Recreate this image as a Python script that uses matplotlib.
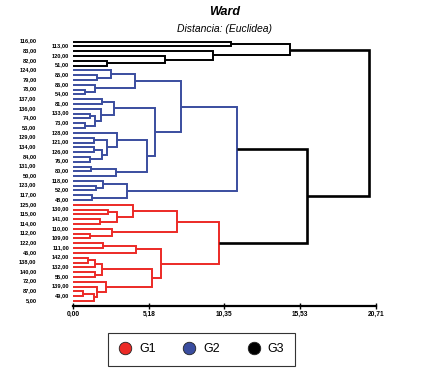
import matplotlib
matplotlib.use("Agg")
import matplotlib.pyplot as plt
from matplotlib.lines import Line2D

# leaf labels, top to bottom
leaves = ['116,00', '113,00', '83,00', '120,00', '82,00', '51,00',
          '124,00', '85,00', '79,00', '86,00', '78,00', '54,00',
          '137,00', '81,00', '136,00', '133,00', '74,00', '73,00', '53,00',
          '128,00', '129,00', '121,00', '134,00', '126,00', '84,00', '76,00',
          '131,00', '80,00', '50,00', '118,00', '123,00', '52,00', '117,00', '48,00',
          '125,00', '130,00', '115,00', '141,00', '114,00', '110,00', '112,00', '109,00',
          '122,00', '111,00', '46,00', '142,00', '138,00', '132,00', '140,00', '55,00',
          '72,00', '139,00', '87,00', '49,00', '5,00']

# group of each leaf (same order as leaves)
groups = ['G3'] * 6 + ['G2'] * 28 + ['G1'] * 21

# merges: (child a, child b, distance); strings are leaves, ints are earlier merges
merges = [
    ('82,00', '51,00', 2.35), ('120,00', 0, 6.29), ('83,00', 1, 9.55),
    ('116,00', '113,00', 10.78), (3, 2, 14.83),
    ('85,00', '79,00', 1.62), ('124,00', 5, 2.60), ('78,00', '54,00', 0.82),
    ('86,00', 7, 1.50), (6, 8, 4.24),
    ('137,00', '81,00', 2.00), ('133,00', '74,00', 1.16), ('73,00', '53,00', 0.82),
    (11, 12, 1.50), ('136,00', 13, 1.91), (10, 14, 2.80),
    ('129,00', '121,00', 1.46), ('134,00', '126,00', 1.46), ('84,00', '76,00', 1.16),
    (17, 18, 1.96), (16, 19, 2.35), ('128,00', 20, 2.98),
    ('131,00', '80,00', 1.23), (22, '50,00', 2.94), (21, 23, 5.08),
    (15, 24, 5.60), (9, 25, 7.36),
    ('123,00', '52,00', 1.57), ('118,00', 27, 2.07), ('117,00', '48,00', 1.28),
    (28, 29, 3.67), (26, 30, 11.22),
    ('130,00', '115,00', 2.42), ('141,00', '114,00', 1.85), (32, 33, 3.03),
    ('125,00', 34, 4.12), ('112,00', '109,00', 1.16), ('110,00', 36, 2.64),
    (35, 37, 7.09),
    ('122,00', '111,00', 2.07), (39, '46,00', 4.28),
    ('142,00', '138,00', 1.05), (41, '132,00', 1.50), ('140,00', '55,00', 1.50),
    (42, 43, 2.00),
    ('87,00', '49,00', 0.71), (45, '5,00', 1.46), ('139,00', 46, 1.66),
    ('72,00', 47, 2.23), (44, 48, 5.38), (40, 49, 6.02), (38, 50, 10.00),
    (31, 51, 15.96), (4, 52, 20.22),
]

ticks = [0, 5.18, 10.35, 15.53, 20.71]
tick_labels = ['0,00', '5,18', '10,35', '15,53', '20,71']

colors = {'G1': '#ec2a26', 'G2': '#3a4d9f', 'G3': '#000000'}

fig = plt.figure(figsize=(4.35, 3.76), dpi=100)
ax = fig.add_axes([73 / 435, 1 - 305.7 / 376, 303 / 435, 268.8 / 376])

# position, height and group of every node
pos = {name: i for i, name in enumerate(leaves)}
hgt = {name: 0.0 for name in leaves}
grp = {name: g for name, g in zip(leaves, groups)}

for k, (a, b, h) in enumerate(merges):
    g = grp[a] if grp[a] == grp[b] else None
    c = colors[g] if g else 'black'
    lw = 1.9 if c == 'black' else 1.4
    ya, yb = pos[a], pos[b]
    ax.plot([hgt[a], h, h, hgt[b]], [ya, ya, yb, yb], color=c, lw=lw,
            solid_joinstyle='miter', solid_capstyle='butt')
    pos[k] = (ya + yb) / 2
    hgt[k] = h
    grp[k] = g

for i, name in enumerate(leaves):
    xoff = -2.49 if i % 2 == 0 else -0.27
    ax.text(xoff, i - 0.15, name, ha='right', va='center', fontsize=4.1,
            fontweight='bold', family='Liberation Sans', clip_on=False)

ax.set_xlim(0, 20.71)
ax.set_ylim(55, -1)
ax.set_xticks(ticks)
ax.set_xticklabels(tick_labels, fontsize=4.8, fontweight='bold', family='Liberation Sans')
ax.set_yticks([])
for s in ['left', 'top', 'right']:
    ax.spines[s].set_visible(False)
ax.spines['bottom'].set_linewidth(1.6)
ax.tick_params(axis='x', direction='inout', length=4, width=1, pad=2)

fig.text(225 / 435, 1 - 12 / 376, 'Ward', ha='center', va='center', fontsize=9,
         fontweight='bold', style='italic', family='Liberation Sans')
fig.text(225 / 435, 1 - 29 / 376, 'Distancia: (Euclidea)', ha='center', va='center',
         fontsize=7.5, style='italic', family='Liberation Sans')

handles = [Line2D([], [], ls='', marker='o', markersize=9, markerfacecolor=colors[g],
                  markeredgecolor='#222222', markeredgewidth=0.6) for g in ['G1', 'G2', 'G3']]
leg = fig.legend(handles, ['G1', 'G2', 'G3'], loc='center',
                 bbox_to_anchor=(201.5 / 435, 1 - 349.5 / 376), ncol=3,
                 prop={'family': 'Liberation Sans', 'size': 9}, fancybox=False,
                 edgecolor='#333333', framealpha=1, handlelength=1.0,
                 handletextpad=0.6, columnspacing=2.2, borderpad=0.85)
leg.get_frame().set_linewidth(0.8)

fig.savefig('out.png', dpi=100)
